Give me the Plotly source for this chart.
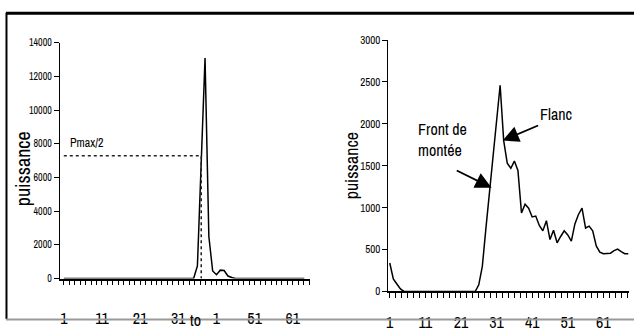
import plotly.graph_objects as go

# ---------------- data ----------------
left_x = list(range(1, 65))
left_y = [0]*35 + [750, 7300, 13100, 2500, 450, 230, 500, 480, 150, 60] + [0]*19
left_ticks = [1, 11, 21, 31, 41, 51, 61]
left_ticktext = ["1", "11", "21", "31", "1", "51", "61"]
left_yticks = [0, 2000, 4000, 6000, 8000, 10000, 12000, 14000]
pmax_half = 7300
t0 = 37

right_x = list(range(1, 69))
right_y = ([340, 150, 90, 30] + [0]*21 +
           [80, 300, 750, 1200, 1650, 2100, 2460, 1800, 1530, 1470, 1556, 1444,
            937, 1042, 994, 889, 900, 787, 724, 844, 619, 731, 581, 656, 724, 675,
            600, 806, 919, 994, 757, 780, 724, 544, 469, 450, 450, 457, 487, 506,
            476, 450, 450])
right_ticks = [1, 11, 21, 31, 41, 51, 61]
right_yticks = [0, 500, 1000, 1500, 2000, 2500, 3000]

FONT = "Archivo Narrow, Liberation Sans, Arial, sans-serif"
W, H = 634, 333


def ticks_with_minor(labels, texts, hi, step):
    vals, txt = [], []
    v = labels[0]
    while v <= hi + 1e-9:
        vals.append(v)
        match = [t for l, t in zip(labels, texts) if abs(l - v) < 1e-6]
        txt.append(match[0] if match else "")
        v += step
    return vals, txt


fig = go.Figure()
fig.add_trace(go.Scatter(x=left_x, y=left_y, mode="lines",
                         line=dict(color="black", width=1.5),
                         xaxis="x", yaxis="y", showlegend=False))
fig.add_trace(go.Scatter(x=[1, t0, t0], y=[pmax_half, pmax_half, 0], mode="lines",
                         line=dict(color="#222", width=1.5, dash="dot"),
                         xaxis="x", yaxis="y", showlegend=False))
fig.add_trace(go.Scatter(x=right_x, y=right_y, mode="lines",
                         line=dict(color="black", width=1.5),
                         xaxis="x2", yaxis="y2", showlegend=False))


def xax(domain, rng, ticks, text, standoff, anchor, step):
    vals, txt = ticks_with_minor(ticks, text, rng[1], step)
    return dict(domain=domain, range=rng, tickmode="array", tickvals=vals,
                ticktext=txt, showline=True, linecolor="black", linewidth=1.5,
                ticks="outside", ticklen=5, tickcolor="black", tickwidth=1,
                showgrid=False, zeroline=False, anchor=anchor,
                ticklabelstandoff=standoff,
                tickfont=dict(family=FONT, size=16, color="black"))


def yax(domain, rng, ticks, anchor, fsize):
    return dict(domain=domain, range=rng, tickmode="array", tickvals=ticks,
                ticktext=[str(t) for t in ticks],
                showline=True, linecolor="black", linewidth=1, ticks="outside",
                ticklen=5, tickcolor="black", showgrid=False, zeroline=False,
                anchor=anchor,
                tickfont=dict(family=FONT, size=fsize, color="black"))


fig.update_layout(
    width=W, height=H, margin=dict(l=0, r=0, t=0, b=0),
    paper_bgcolor="white", plot_bgcolor="white",
    xaxis=xax([58/W, 309/W], [-0.04, 65.5], left_ticks, left_ticktext, 19, "y", 10/7),
    yaxis=yax([1-288/H, 1-38/H], [0, 14000], left_yticks, "x", 10),
    xaxis2=xax([387.7/W, 629/W], [0.64, 68.2], right_ticks,
               [str(v) for v in right_ticks], 11, "y2", 10/6),
    yaxis2=yax([1-301.7/H, 1-35/H], [0, 3000], right_yticks, "x2", 11),
    annotations=[
        dict(text="puissance", textangle=-90, x=20/W, y=1-171/H, xref="paper",
             yref="paper", xanchor="center", yanchor="middle", showarrow=False,
             font=dict(family=FONT, size=20, color="black")),
        dict(text="puissance", textangle=-90, x=351/W, y=1-168/H, xref="paper",
             yref="paper", xanchor="center", yanchor="middle", showarrow=False,
             font=dict(family=FONT, size=18, color="black")),
        dict(text="Pmax/2", x=2.0, y=8064, xref="x", yref="y", xanchor="left",
             showarrow=False, font=dict(family=FONT, size=12, color="black")),
        dict(text="to", x=35.5, y=0, xref="x", yref="y", yanchor="top", yshift=-28,
             showarrow=False, font=dict(family=FONT, size=16, color="black")),
        dict(text="Front de<br>montée", x=8.3, y=1813, xref="x2", yref="y2",
             xanchor="left", align="left", showarrow=False,
             font=dict(family=FONT, size=16, color="black")),
        dict(text="Flanc", x=42.6, y=2123, xref="x2", yref="y2", xanchor="left",
             showarrow=False, font=dict(family=FONT, size=16, color="black")),
        dict(text="", x=29.6, y=1237, ax=19.4, ay=1452, xref="x2", yref="y2",
             axref="x2", ayref="y2", showarrow=True, arrowhead=2, arrowsize=1.8,
             arrowwidth=1.8, arrowcolor="black"),
        dict(text="", x=32.7, y=1800, ax=43.1, ay=1988, xref="x2", yref="y2",
             axref="x2", ayref="y2", showarrow=True, arrowhead=2, arrowsize=1.8,
             arrowwidth=1.8, arrowcolor="black"),
    ],
    shapes=[
        dict(type="line", xref="paper", yref="paper", x0=4/W, x1=1, y0=1-6.5/H,
             y1=1-6.5/H, line=dict(color="black", width=3)),
        dict(type="line", xref="paper", yref="paper", x0=4.5/W, x1=4.5/W, y0=1-6/H,
             y1=1-331/H, line=dict(color="black", width=2)),
        dict(type="line", xref="paper", yref="paper", x0=4/W, x1=1, y0=1-331.5/H,
             y1=1-331.5/H, line=dict(color="#999", width=2)),
    ],
)

fig.write_html("out.html")
